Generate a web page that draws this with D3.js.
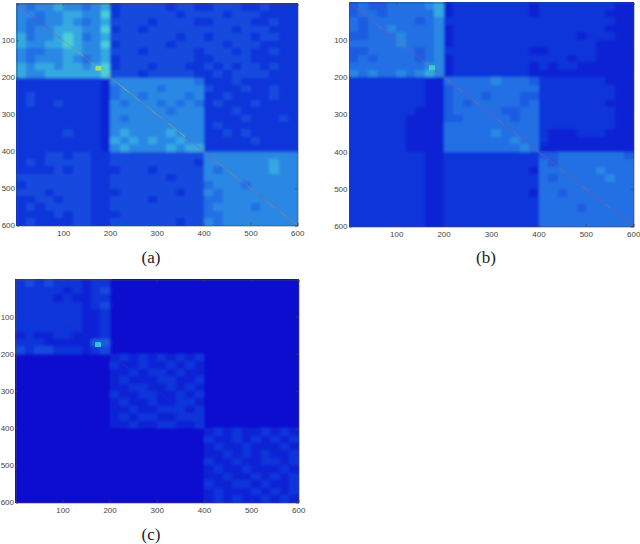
<!DOCTYPE html>
<html lang="en">
<head>
  <meta charset="UTF-8">
  <title>Similarity matrices</title>
  <script src="https://d3js.org/d3.v7.min.js"></script>
  <style>
    body{margin: 0; background: white;}
    svg{display: block;}
    .tick text{font-family: "Liberation Sans", Arial, sans-serif; font-size: 8px; fill: #444;}
    .tick line, .domain{stroke: #444; stroke-width: .6px;}
    .caption{font-family: "Liberation Serif", serif; font-size: 17px; fill: #222; text-anchor: middle;}
  </style>
</head>
<body>
<svg id="chart" width="640" height="544"></svg>
<script>
// DATA: mean level (0-9) of each 20x20 cell
const gridA = [
"6566766567 2333332332 2333223222",
"6656677668 2333333233 3323332222",
"6556676567 3333233332 2333322322",
"6566777668 2332333333 3332333222",
"7566787567 3333333233 2333323322",
"7667787668 2333332333 3323332222",
"6556677667 3332333332 3332322322",
"6566676567 2333333332 2333322222",
"7677677678 2333233322 3232332322",
"7667777778 3332333332 2323333222",
"2222222221 6666666665 2223222222",
"2222222221 5666656666 3222322322",
"2322222221 5665666656 2232222322",
"2322322221 6566656565 2322232222",
"2222222221 6666665666 2223222222",
"2222222221 6566666666 2222322232",
"2222222221 6666666666 2322222222",
"2222232221 6766667666 2232322222",
"2222222221 7676766766 2222232222",
"2222222221 6766667677 2222222222",
"2223323322 3333333333 6666666666",
"2323333322 3333333332 6666666766",
"2222323322 2333233333 6566666766",
"3333333322 3333332333 6666666666",
"2333333322 3333333333 5666566666",
"3332333322 2333333233 6566666666",
"2233233322 3333233333 5566666666",
"2323333322 3333333333 5666656666",
"2222323322 2333333333 5566666666",
"2322223322 3333333233 6566666666"];

const gridB = [
"4544555567 1222222221 2222222211",
"4554555557 1222222221 2222222111",
"5455555456 2222222222 2222222211",
"5455655556 1222222222 2222222111",
"4455565556 1222222222 2222122211",
"5555565556 1222222222 2222221111",
"4455555456 2222222221 1222221111",
"4545555456 1222222222 2221221111",
"5555555566 1222222221 2122111111",
"6565565676 1222222221 1111111111",
"2222222211 5555565554 2222222111",
"2222222211 4555555555 2222222211",
"2222222211 4555455544 2222222211",
"2222222211 4545555545 2222222111",
"2222222111 4555554455 2222222211",
"2222221111 4455555455 2222222211",
"2222221111 5555555555 2222222211",
"2222221111 5555565555 2111222111",
"2222221111 5555555655 2111111111",
"2222221111 5555555565 1111111111",
"2222222211 2222222222 4455555554",
"2222222211 2222222222 5455555555",
"2222222211 2222222221 5555556555",
"2222222211 2222222222 5455555655",
"2222222211 2222222222 5555555555",
"2222222211 2222222221 5545555555",
"2222222211 2222222222 5555555555",
"2222222211 2222222222 5555455555",
"2222222211 2222222222 5555555555",
"2222222211 2222222222 5555555555"];

const gridC = [
"2323222122 0000000000 0000000000",
"2222212123 0000000000 0000000000",
"2222121122 0000000000 0000000000",
"2222222123 0000000000 0000000000",
"2222222112 0000000000 0000000000",
"2222222112 0000000000 0000000000",
"2222222112 0000000000 0000000000",
"1211221112 0000000000 0000000000",
"2221111144 0000000000 0000000000",
"3233222123 0000000000 0000000000",
"0000000000 1212121212 0000000000",
"0000000000 2112112121 0000000000",
"0000000000 1121221211 0000000000",
"0000000000 1211122112 0000000000",
"0000000000 1122112121 0000000000",
"0000000000 2112211212 0000000000",
"0000000000 1211211221 0000000000",
"0000000000 1121122212 0000000000",
"0000000000 1212211222 0000000000",
"0000000000 1121122112 0000000000",
"0000000000 0000000000 1212112121",
"0000000000 0000000000 2112121212",
"0000000000 0000000000 1211211121",
"0000000000 0000000000 1121212112",
"0000000000 0000000000 2112112212",
"0000000000 0000000000 1211211121",
"0000000000 0000000000 1121121212",
"0000000000 0000000000 2112212112",
"0000000000 0000000000 1211121212",
"0000000000 0000000000 1212112121"];

// bright diagonal, one level per 12 units
const diagA = [4,5,4,5,5,4,6,5,6,6,7,8,6,7,5,8,6,7,8,9,7,8,6,7,8,7,6,8,7,9,5,6,5,6,5,6,7,6,7,6,6,7,6,5,6,7,6,7,6,7];
const diagB = [5,5,5,5,5,6,5,5,5,6,5,5,5,6,5,5,5,6,5,6,5,5,6,5,5,5,6,5,5,6,5,5,5,6,5,5,5,6,5,5,5,6,5,5,5,6,5,5,5,5];
const diagC = [1,1,1,1,1,1,1,1,1,2,1,1,1,1,1,1,1,1,1,2,1,1,1,1,1,1,1,1,1,2,1,1,1,1,1,1,1,1,1,1,1,1,1,1,1,1,1,1,1,1];

// the warm patch near index 175
const hotA = ["#a8e070"];
const hotB = ["#40d0c0"];
const hotC = ["#30c8d8"];

const ticks = [100, 200, 300, 400, 500, 600];
const captions = ["(a)", "(b)", "(c)"];

// LAYOUT
const panels = [
  {grid: gridA, diag: diagA, hot: hotA, caption: captions[0], x0: 16.5, x1: 297.5, y0: 3.5, y1: 225.5, capX: 151, capY: 263},
  {grid: gridB, diag: diagB, hot: hotB, caption: captions[1], x0: 349, x1: 633.5, y0: 2.5, y1: 226.5, capX: 486, capY: 263},
  {grid: gridC, diag: diagC, hot: hotC, caption: captions[2], x0: 15.5, x1: 298.5, y0: 279.5, y1: 502.5, capX: 151, capY: 540}
];
const cellSize = 20;

const color = d3.scaleLinear()
  .domain([0, 1, 2, 3, 4, 5, 6, 7, 8, 9])
  .range(["#0a10d0", "#0c20d4", "#1034da", "#1448de", "#1a5ce2", "#2270e4", "#2a88e4", "#34a8e2", "#48d0d8", "#70e8c0"]);
const diagColor = d3.scaleLinear().domain([1, 5, 7, 9]).range(["#1430d8", "#a04a90", "#c08a50", "#d8d850"]);

const svg = d3.select("#chart");

// soften the cells, alpha pushed back to 1 so the frame edge stays clean
const blur = svg.append("defs").append("filter").attr("id", "soft")
  .attr("x", 0).attr("y", 0).attr("width", 1).attr("height", 1);
blur.append("feGaussianBlur").attr("stdDeviation", 1.6);
blur.append("feComponentTransfer").append("feFuncA").attr("type", "linear").attr("slope", 50);

panels.forEach(p => {
  const x = d3.scaleLinear().domain([0.5, 600.5]).range([p.x0, p.x1]);
  const y = d3.scaleLinear().domain([0.5, 600.5]).range([p.y0, p.y1]);
  const g = svg.append("g");

  const cells = p.grid.flatMap((row, r) =>
    row.replace(/ /g, "").split("").map((v, c) => ({r, c, v: +v})));

  // cells run a little past their right and bottom edge so no seams show
  g.append("g").attr("filter", "url(#soft)").attr("shape-rendering", "crispEdges")
    .selectAll("rect.cell").data(cells).join("rect")
    .attr("class", "cell")
    .attr("x", d => x(d.c * cellSize + 0.5))
    .attr("y", d => y(d.r * cellSize + 0.5))
    .attr("width", d => x(Math.min((d.c + 1) * cellSize + 3, 600) + 0.5) - x(d.c * cellSize + 0.5))
    .attr("height", d => y(Math.min((d.r + 1) * cellSize + 3, 600) + 0.5) - y(d.r * cellSize + 0.5))
    .attr("fill", d => color(d.v));

  // diagonal
  g.selectAll("line.diag").data(p.diag).join("line")
    .attr("class", "diag")
    .attr("x1", (d, i) => x(i * 12 + 0.5))
    .attr("y1", (d, i) => y(i * 12 + 0.5))
    .attr("x2", (d, i) => x((i + 1) * 12 + 0.5))
    .attr("y2", (d, i) => y((i + 1) * 12 + 0.5))
    .attr("stroke", d => diagColor(d))
    .attr("stroke-width", .7)
    .attr("stroke-opacity", .75);

  // patch
  g.selectAll("rect.hot").data(p.hot).join("rect")
    .attr("class", "hot")
    .attr("x", x(169))
    .attr("y", y(169))
    .attr("width", x(182) - x(169))
    .attr("height", y(182) - y(169))
    .attr("fill", d => d);

  // axes
  g.append("g").attr("transform", `translate(0,${p.y1})`)
    .call(d3.axisBottom(x).tickValues(ticks).tickSize(-2.5).tickPadding(5).tickFormat(d3.format("d")));
  g.append("g").attr("transform", `translate(${p.x0},0)`)
    .call(d3.axisLeft(y).tickValues(ticks).tickSize(-2.5).tickPadding(1.5).tickFormat(d3.format("d")));
  g.append("g").attr("transform", `translate(0,${p.y0})`)
    .call(d3.axisTop(x).tickValues(ticks).tickSize(-2.5).tickFormat(""));
  g.append("g").attr("transform", `translate(${p.x1},0)`)
    .call(d3.axisRight(y).tickValues(ticks).tickSize(-2.5).tickFormat(""));

  g.append("text")
    .attr("class", "caption")
    .attr("x", p.capX)
    .attr("y", p.capY)
    .text(p.caption);
});
</script>
</body>
</html>
